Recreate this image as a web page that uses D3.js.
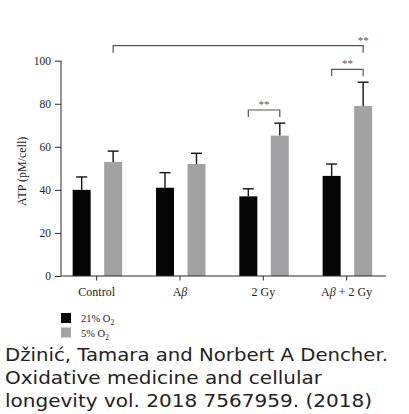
<!DOCTYPE html>
<html>
<head>
<meta charset="utf-8">
<script src="https://cdn.jsdelivr.net/npm/d3@7"></script>
<style>
  html, body { margin: 0; padding: 0; background: #fff; }
  svg { display: block; }
</style>
</head>
<body>
<svg id="chart" width="409" height="414"></svg>
<script>
// ---- data ----
const categories = ["Control", "Aβ", "2 Gy", "Aβ + 2 Gy"];
const seriesNames = ["21% O2", "5% O2"];
const values21 = [40, 41, 37, 46.5];
const errors21 = [6, 7, 3.5, 5.5];
const values5 = [53, 52, 65.2, 79];
const errors5 = [5, 5, 5.8, 11];
const yTicks = [0, 20, 40, 60, 80, 100];
const sigFrom = [0, 2, 3];          // category index of left end
const sigFromSeries = [1, 0, 0];    // series index of left end
const sigTo = [3, 2, 3];            // category index of right end
const sigToSeries = [1, 1, 1];
const sigLevel = [107, 77.1, 96];   // bracket height in data units
const sigLabel = ["**", "**", "**"];
const citation = [
  "Džinić, Tamara and Norbert A Dencher.",
  "Oxidative medicine and cellular",
  "longevity vol. 2018 7567959. (2018)"
];

// ---- layout ----
const svg = d3.select("#chart");
const serif = "'Liberation Serif', 'DejaVu Serif', serif";
const colors = ["#050505", "#a2a2a4"];
const axisColor = "#2a2a2a";

const x = d3.scaleBand().domain(categories).range([55, 388.3]).padding(0);
const sub = d3.scaleBand().domain([0, 1]).range([-24, 25.5]).paddingInner(0.4286);
const y = d3.scaleLinear().domain([0, 100]).range([276, 60.7]);

const cx = c => x(c) + x.bandwidth() / 2;
const barCenter = (ci, si) => cx(categories[ci]) + sub(si) + sub.bandwidth() / 2;

const data = [];
categories.forEach((c, i) => {
  data.push({ c, i, s: 0, v: values21[i], e: errors21[i] });
  data.push({ c, i, s: 1, v: values5[i], e: errors5[i] });
});

// bars
svg.append("g").selectAll("rect").data(data).join("rect")
  .attr("x", d => cx(d.c) + sub(d.s))
  .attr("width", sub.bandwidth())
  .attr("y", d => y(d.v))
  .attr("height", d => y(0) - y(d.v))
  .attr("fill", d => colors[d.s]);

// error bars (upper only)
const eg = svg.append("g").attr("stroke", "#111").attr("stroke-width", 1.4);
eg.selectAll("line.stem").data(data).join("line").attr("class", "stem")
  .attr("x1", d => barCenter(d.i, d.s)).attr("x2", d => barCenter(d.i, d.s))
  .attr("y1", d => y(d.v)).attr("y2", d => y(d.v + d.e));
eg.selectAll("line.cap").data(data).join("line").attr("class", "cap")
  .attr("x1", d => barCenter(d.i, d.s) - 5.5).attr("x2", d => barCenter(d.i, d.s) + 5.5)
  .attr("y1", d => y(d.v + d.e)).attr("y2", d => y(d.v + d.e));

// y axis
const yAxis = svg.append("g").attr("transform", "translate(61,0)")
  .call(d3.axisLeft(y).tickValues(yTicks).tickSize(6).tickPadding(4));
yAxis.select(".domain").attr("stroke", axisColor).attr("d", `M0,${y(0)}V${y(100)}`);
yAxis.selectAll(".tick line").attr("stroke", axisColor);
yAxis.selectAll(".tick text").attr("font-family", serif).attr("font-size", 11.5).attr("fill", "#222");

// x axis
const xAxis = svg.append("g").attr("transform", `translate(0,${y(0)})`)
  .call(d3.axisBottom(x).tickSize(4.5).tickPadding(6).tickFormat(""));
xAxis.select(".domain").attr("stroke", axisColor).attr("d", "M61,0H386");
xAxis.selectAll(".tick line").attr("stroke", axisColor);
xAxis.selectAll(".tick").each(function(d) {
  const t = d3.select(this).append("text")
    .attr("y", 20).attr("text-anchor", "middle")
    .attr("font-family", serif).attr("font-size", 12).attr("fill", "#222");
  const parts = d.split("β");
  parts.forEach((p, k) => {
    if (p) t.append("tspan").text(p);
    if (k < parts.length - 1) t.append("tspan").attr("font-style", "italic").text("β");
  });
});

// y label
svg.append("text")
  .attr("transform", `translate(26,${(y(0) + y(100)) / 2 + 3}) rotate(-90)`)
  .attr("text-anchor", "middle").attr("font-family", serif).attr("font-size", 12).attr("fill", "#222")
  .text("ATP (pM/cell)");

// significance brackets
const sg = svg.append("g");
sigLabel.forEach((lab, k) => {
  const x1 = barCenter(sigFrom[k], sigFromSeries[k]);
  const x2 = barCenter(sigTo[k], sigToSeries[k]);
  const yy = y(sigLevel[k]);
  const drop = 7;
  sg.append("path")
    .attr("d", `M${x1},${yy + drop}V${yy}H${x2}V${yy + drop}`)
    .attr("fill", "none").attr("stroke", "#555").attr("stroke-width", 1.2);
  const tx = k === 0 ? x2 : (x1 + x2) / 2;
  sg.append("text").attr("x", tx).attr("y", yy - 2)
    .attr("text-anchor", "middle").attr("font-family", serif).attr("font-size", 11)
    .attr("fill", "#555").text(lab);
});

// legend
const lg = svg.append("g");
seriesNames.forEach((name, k) => {
  const yy = 313 + k * 14.5;
  lg.append("rect").attr("x", 61).attr("y", yy).attr("width", 10).attr("height", 10).attr("fill", colors[k]);
  const t = lg.append("text").attr("x", 81).attr("y", yy + 9)
    .attr("font-family", serif).attr("font-size", 10.5).attr("fill", "#222");
  t.append("tspan").text(name.slice(0, -1));
  t.append("tspan").attr("font-size", 7.5).attr("dy", 3).text(name.slice(-1));
});

// citation
const citWidths = [383, 317, 367];
citation.forEach((line, k) => {
  svg.append("text").attr("x", 5).attr("y", 361 + k * 23)
    .attr("font-family", "'DejaVu Sans', sans-serif").attr("font-size", 17.5)
    .attr("fill", "#222")
    .attr("textLength", citWidths[k]).attr("lengthAdjust", "spacingAndGlyphs")
    .text(line);
});
</script>
</body>
</html>
